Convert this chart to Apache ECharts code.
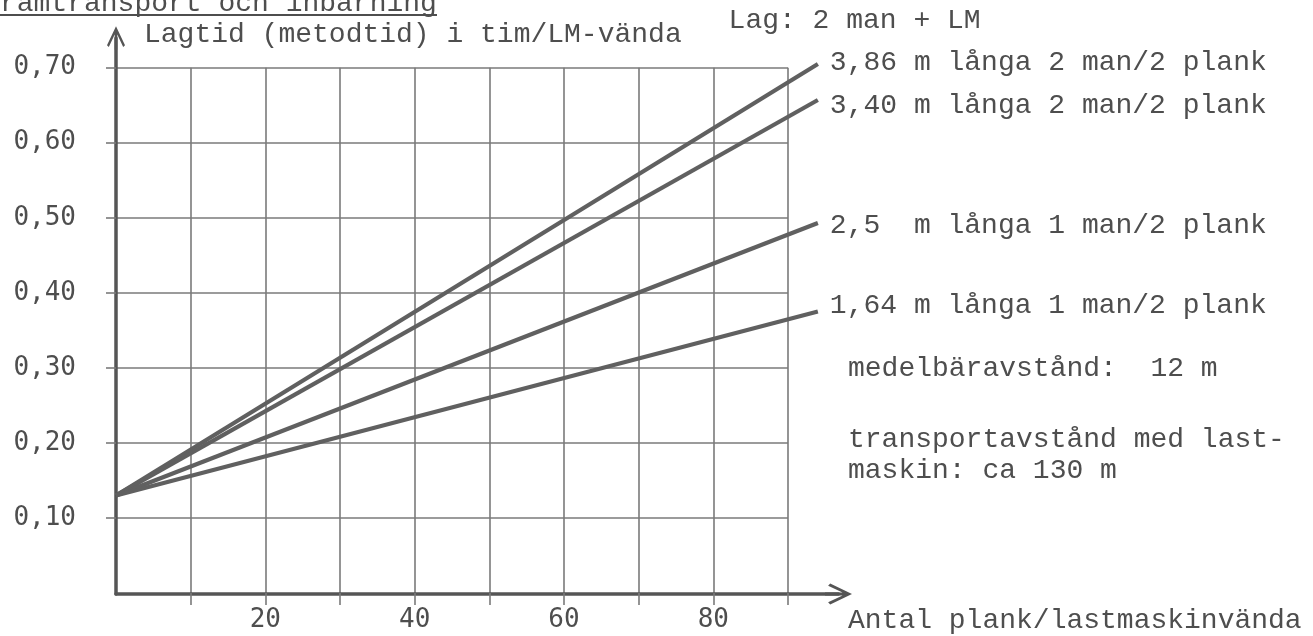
<!DOCTYPE html>
<html>
<head>
<meta charset="utf-8">
<script src="https://cdn.jsdelivr.net/npm/echarts@6/dist/echarts.min.js"></script>
<style>
  html, body { margin: 0; padding: 0; background: #ffffff; }
  #chart { width: 1313px; height: 636px; }
</style>
</head>
<body>
<div id="chart"></div>
<script>
// Lagtid per LM-vända against number of planks per trip, four plank lengths
const seriesNames = [
  '3,86 m långa 2 man/2 plank',
  '3,40 m långa 2 man/2 plank',
  '2,5  m långa 1 man/2 plank',
  '1,64 m långa 1 man/2 plank'
];
const planks = [0, 94];
const hours386 = [0.13, 0.705];
const hours340 = [0.13, 0.657];
const hours250 = [0.13, 0.493];
const hours164 = [0.13, 0.375];

const xTickValues = [10, 20, 30, 40, 50, 60, 70, 80, 90];
const xLabelValues = [20, 40, 60, 80];
const yTickValues = [0.1, 0.2, 0.3, 0.4, 0.5, 0.6, 0.7];
const yTickLabels = ['0,10', '0,20', '0,30', '0,40', '0,50', '0,60', '0,70'];

const TYPE_FONT = '"Liberation Mono", "DejaVu Sans Mono", monospace';
const DIGIT_FONT = '"DejaVu Sans Mono", monospace';
const INK = '#4e4e4e';
const GRID_INK = '#7a7a7a';
const LINE_INK = '#606060';

// open arrow head with a short shaft, pointing up in its own frame
const ARROW = 'path://M10,0 L20,21 L18,23 L10,6 L2,23 L0,21 Z M8.6,4 L11.4,4 L11.4,26 L8.6,26 Z';

// plot area geometry: x 0..90 spans the ruled grid, the plotted lines run on to x = 94
const LEFT = 116, TOP = 67.7, BOTTOM = 43;
const PX_PER_UNIT = 672 / 90;
const RIGHT_GRID = 1313 - (LEFT + 90 * PX_PER_UNIT);
const RIGHT_DATA = 1313 - (LEFT + 94 * PX_PER_UNIT);

const allHours = [hours386, hours340, hours250, hours164];
const labelShift = [-1, 6, 3, -6];

const chart = echarts.init(document.getElementById('chart'), null, { renderer: 'canvas' });

const hiddenAxis = (grid, min, max) => ({
  gridIndex: grid, type: 'value', min: min, max: max,
  axisLine: { show: false }, axisTick: { show: false },
  axisLabel: { show: false }, splitLine: { show: false }
});

const option = {
  animation: false,
  backgroundColor: '#ffffff',
  grid: [
    { left: LEFT, right: RIGHT_GRID, top: TOP, bottom: BOTTOM },
    { left: LEFT, right: 474.5, top: 38, bottom: 42 },
    { left: LEFT, right: RIGHT_DATA, top: TOP, bottom: BOTTOM }
  ],
  xAxis: [
    {
      gridIndex: 0, type: 'value', min: 0, max: 90, interval: 10,
      axisLine: { show: false },
      axisTick: { show: true, customValues: xTickValues, length: 12, inside: false,
        lineStyle: { color: GRID_INK, width: 1.6 } },
      axisLabel: {
        show: true, customValues: xLabelValues, margin: 14,
        fontFamily: DIGIT_FONT, fontSize: 26, color: INK,
        formatter: v => String(v)
      },
      splitLine: { show: true, lineStyle: { color: GRID_INK, width: 1.6 } }
    },
    {
      gridIndex: 1, type: 'value', min: 0, max: 1,
      axisLine: { show: true, symbol: ['none', ARROW], symbolSize: [21, 27],
        lineStyle: { color: '#555555', width: 3.5 } },
      axisTick: { show: false }, axisLabel: { show: false }, splitLine: { show: false }
    },
    hiddenAxis(2, 0, 94)
  ],
  yAxis: [
    {
      gridIndex: 0, type: 'value', min: 0, max: 0.7, interval: 0.1,
      axisLine: { show: false },
      axisTick: { show: true, customValues: yTickValues, length: 10, inside: false,
        lineStyle: { color: GRID_INK, width: 1.6 } },
      axisLabel: {
        show: true, customValues: yTickValues, margin: 40,
        fontFamily: DIGIT_FONT, fontSize: 26, color: INK,
        formatter: function (v) {
          for (let i = 0; i < yTickValues.length; i++) {
            if (Math.abs(yTickValues[i] - v) < 1e-9) return yTickLabels[i];
          }
          return '';
        }
      },
      splitLine: { show: true, lineStyle: { color: GRID_INK, width: 1.6 } }
    },
    {
      gridIndex: 1, type: 'value', min: 0, max: 1,
      axisLine: { show: true, symbol: ['none', ARROW], symbolSize: [18, 24],
        lineStyle: { color: '#555555', width: 3.5 } },
      axisTick: { show: false }, axisLabel: { show: false }, splitLine: { show: false }
    },
    hiddenAxis(2, 0, 0.7)
  ],
  series: seriesNames.map((name, i) => ({
    name: name,
    type: 'line',
    xAxisIndex: 2,
    yAxisIndex: 2,
    clip: false,
    symbol: 'none',
    data: planks.map((x, j) => [x, allHours[i][j]]),
    lineStyle: { color: LINE_INK, width: 4.2 },
    endLabel: {
      show: true,
      formatter: '{a}',
      fontFamily: TYPE_FONT,
      fontSize: 28,
      color: INK,
      distance: 12,
      offset: [0, labelShift[i]]
    },
    emphasis: { disabled: true }
  })),
  graphic: [
    {
      type: 'text', x: -16.8, y: 4,
      style: { text: 'Framtransport och inbärning', font: '28px ' + TYPE_FONT, fill: INK, verticalAlign: 'middle' }
    },
    {
      type: 'line', shape: { x1: 0, y1: 15, x2: 437, y2: 15 },
      style: { stroke: INK, lineWidth: 2 }
    },
    {
      type: 'text', x: 144, y: 35,
      style: { text: 'Lagtid (metodtid) i tim/LM-vända', font: '28px ' + TYPE_FONT, fill: INK, verticalAlign: 'middle' }
    },
    {
      type: 'text', x: 728.6, y: 21,
      style: { text: 'Lag: 2 man + LM', font: '28px ' + TYPE_FONT, fill: INK, verticalAlign: 'middle' }
    },
    {
      type: 'text', x: 848, y: 369,
      style: { text: 'medelbäravstånd:  12 m', font: '28px ' + TYPE_FONT, fill: INK, verticalAlign: 'middle' }
    },
    {
      type: 'text', x: 848, y: 440,
      style: { text: 'transportavstånd med last-', font: '28px ' + TYPE_FONT, fill: INK, verticalAlign: 'middle' }
    },
    {
      type: 'text', x: 848, y: 471,
      style: { text: 'maskin: ca 130 m', font: '28px ' + TYPE_FONT, fill: INK, verticalAlign: 'middle' }
    },
    {
      type: 'text', x: 848, y: 621,
      style: { text: 'Antal plank/lastmaskinvända', font: '28px ' + TYPE_FONT, fill: INK, verticalAlign: 'middle' }
    }
  ]
};

chart.setOption(option);
</script>
</body>
</html>
